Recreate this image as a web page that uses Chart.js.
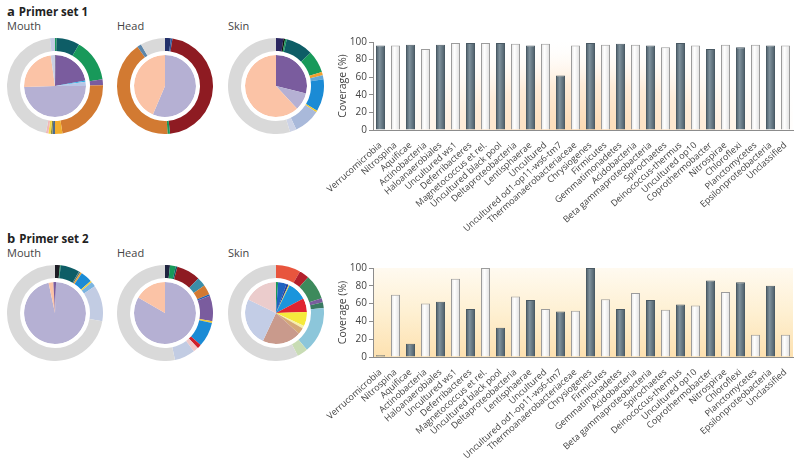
<!DOCTYPE html>
<html>
<head>
<meta charset="utf-8">
<script src="https://cdn.jsdelivr.net/npm/chart.js@4"></script>
<style>
  body { margin: 0; background: #fff; }
  #fig { position: relative; width: 800px; height: 469px; overflow: hidden; font-family: "Open Sans", sans-serif; color: #444; }
  .panel { position: absolute; font-weight: bold; font-size: 11.5px; line-height: 14px; color: #222; }
  .panel span { font-size: 13px; margin-right: 4px; }
  .site { position: absolute; font-size: 11px; line-height: 14px; color: #444; }
  canvas { position: absolute; }
</style>
</head>
<body>
<div id="fig">
  <div class="panel" style="left:7px;top:4px"><span>a</span>Primer set 1</div>
  <div class="site" style="left:7px;top:19px">Mouth</div>
  <div class="site" style="left:117px;top:19px">Head</div>
  <div class="site" style="left:228px;top:19px">Skin</div>

  <div class="panel" style="left:7px;top:231px"><span>b</span>Primer set 2</div>
  <div class="site" style="left:7px;top:246px">Mouth</div>
  <div class="site" style="left:117px;top:246px">Head</div>
  <div class="site" style="left:228px;top:246px">Skin</div>

  <canvas id="pieA1" width="96" height="96" style="left:7px;top:38px"></canvas>
  <canvas id="pieA2" width="96" height="96" style="left:117px;top:38px"></canvas>
  <canvas id="pieA3" width="96" height="96" style="left:228px;top:38px"></canvas>
  <canvas id="pieB1" width="96" height="96" style="left:7px;top:265px"></canvas>
  <canvas id="pieB2" width="96" height="96" style="left:117px;top:265px"></canvas>
  <canvas id="pieB3" width="96" height="96" style="left:228px;top:265px"></canvas>

  <canvas id="barsA" width="475" height="215" style="left:325px;top:30px"></canvas>
  <canvas id="barsB" width="475" height="213" style="left:325px;top:256px"></canvas>
</div>

<script>
// ==================== DATOS ====================
const categories = [
  'Verrucomicrobia', 'Nitrospina', 'Aquificae', 'Actinobacteria', 'Haloanaerobiales',
  'Uncultured ws1', 'Deferribacteres', 'Magnetococcus et rel.', 'Uncultured black pool',
  'Deltaproteobacteria', 'Lentisphaerae', 'Uncultured', 'Uncultured od1-op11-ws6-tm7',
  'Thermoanaerobacteriaceae', 'Chrysiogenes', 'Firmicutes', 'Gemmatimonadetes',
  'Acidobacteria', 'Beta gammaproteobacteria', 'Spirochaetes', 'Deinococcus-thermus',
  'Uncultured op10', 'Coprothermobacter', 'Nitrospirae', 'Chloroflexi', 'Planctomycetes',
  'Epsilonproteobacteria', 'Unclassified'
];
const coverageSet1 = [96, 96, 97, 92, 97, 99, 99, 99, 99, 98, 96, 98, 62, 96, 99, 97, 98, 97, 96, 94, 99, 96, 92, 97, 94, 97, 96, 96];
const coverageSet2 = [2, 70, 15, 60, 62, 88, 54, 100, 33, 68, 64, 54, 51, 52, 100, 65, 54, 72, 64, 53, 59, 58, 86, 73, 84, 25, 80, 25];
const yTicks = [0, 20, 40, 60, 80, 100];

// pie shares in degrees, clockwise from 12 o'clock
const mouth1Outer = [2, 28, 52, 7, 82, 9, 3, 2, 3, 3, 163, 6];
const mouth1Inner = [1, 79, 2, 8, 178, 84, 8];
const head1Outer = [7, 2, 165, 3, 148, 5, 30];
const head1Inner = [203, 157];
const skin1Outer = [9, 2, 2, 33, 27, 4, 5, 39, 2, 32, 8, 197];
const skin1Inner = [104, 33, 223];

const mouth2Outer = [6, 1, 23, 2, 2, 14, 2, 6, 44, 260];
const mouth2Inner = [2, 346, 9, 3];
const head2Outer = [6, 7, 2, 29, 11, 12, 2, 31, 2, 30, 5, 6, 25, 192];
const head2Inner = [300, 60];
const skin2Outer = [30, 12, 30, 5, 7, 56, 13, 207];
const skin2Inner = [4, 16, 4, 2, 36, 26, 27, 5, 12, 73, 91, 64];

// ==================== COLORES ====================
const C = {
  gris: '#d9d9d9', lavanda: '#b5b0d3', melocoton: '#fbc3a6', morado: '#7a5c9e',
  teal: '#0e5d66', verde: '#18995a', naranja: '#d27a32', granate: '#8e1b22',
  marino: '#22306a', azul: '#1b8bd5', acero: '#c2cce3'
};
const mouth1OuterColors = [C.verde, C.teal, C.verde, C.morado, C.naranja, '#f2ae2e', '#4a6a90', '#8a8a40', '#f5d840', '#f0b8b8', C.gris, '#c4cbe3'];
const mouth1InnerColors = ['#222', C.morado, '#2ab0e8', '#b8c6e6', C.lavanda, C.melocoton, '#c9cfe2'];
const head1OuterColors = [C.marino, '#2c5aa0', C.granate, C.verde, C.naranja, '#5d86aa', C.gris];
const head1InnerColors = [C.lavanda, C.melocoton];
const skin1OuterColors = ['#2a2660', '#111', C.verde, C.teal, C.verde, '#f2a030', '#64a8d8', C.azul, '#f0c830', '#a9b9da', '#cdd3e6', C.gris];
const skin1InnerColors = [C.morado, C.lavanda, C.melocoton];

const mouth2OuterColors = ['#1c1c24', C.verde, C.teal, '#4a7a80', '#f0a030', C.azul, '#f0d040', '#7ab4e0', C.acero, C.gris];
const mouth2InnerColors = [C.morado, C.lavanda, C.melocoton, C.morado];
const head2OuterColors = ['#1f2440', C.verde, C.teal, C.granate, '#3a8ea8', C.naranja, '#2060b0', C.morado, '#f0c830', C.azul, '#d0202a', '#f0c8c8', C.acero, C.gris];
const head2InnerColors = [C.lavanda, C.melocoton];
const skin2OuterColors = ['#e8553d', '#b3202c', '#3d8a5c', C.morado, '#3a7a62', '#8cc6da', '#c8dcb4', C.gris];
const skin2InnerColors = [C.verde, '#1f63c0', '#2040a0', '#f0d040', '#1b95dc', '#e02430', '#f5ea3c', '#f7f0a8', '#d4a878', '#c99a8c', '#c3cde6', '#ebcccc'];

const FONT = '"Open Sans", sans-serif';

// ==================== PASTELES ====================
function crearPastel(id, outer, outerColors, inner, innerColors) {
  new Chart(document.getElementById(id), {
    type: 'doughnut',
    data: {
      datasets: [
        { data: outer, backgroundColor: outerColors, weight: 13 },
        { data: [1], backgroundColor: '#ffffff', weight: 4 },
        { data: inner, backgroundColor: innerColors, weight: 31 }
      ]
    },
    options: {
      responsive: false,
      animation: false,
      cutout: 0,
      events: [],
      borderWidth: 0,
      hoverOffset: 0,
      elements: { arc: { borderWidth: 0 } },
      plugins: { legend: { display: false }, tooltip: { enabled: false } }
    }
  });
}

crearPastel('pieA1', mouth1Outer, mouth1OuterColors, mouth1Inner, mouth1InnerColors);
crearPastel('pieA2', head1Outer, head1OuterColors, head1Inner, head1InnerColors);
crearPastel('pieA3', skin1Outer, skin1OuterColors, skin1Inner, skin1InnerColors);
crearPastel('pieB1', mouth2Outer, mouth2OuterColors, mouth2Inner, mouth2InnerColors);
crearPastel('pieB2', head2Outer, head2OuterColors, head2Inner, head2InnerColors);
crearPastel('pieB3', skin2Outer, skin2OuterColors, skin2Inner, skin2InnerColors);

// ==================== FONDO DEL AREA ====================
const fondoArea = {
  id: 'fondoArea',
  beforeDraw(chart, args, opts) {
    const area = chart.chartArea;
    if (!area) return;
    const ctx = chart.ctx;
    const w = area.right - area.left, h = area.bottom - area.top;
    ctx.save();
    ctx.beginPath();
    ctx.rect(area.left, area.top, w, h);
    ctx.clip();
    if (opts.tipo === 'radial') {
      ctx.fillStyle = '#ffffff';
      ctx.fillRect(area.left, area.top, w, h);
      ctx.translate((area.left + area.right) / 2, area.bottom);
      ctx.scale(w * 0.55 / h, 1);
      const g = ctx.createRadialGradient(0, 0, 0, 0, 0, h * 1.05);
      g.addColorStop(0, '#fcdab2');
      g.addColorStop(0.5, '#feecd9');
      g.addColorStop(1, 'rgba(255,255,255,0)');
      ctx.fillStyle = g;
      ctx.fillRect(-2000, -2000, 4000, 4000);
    } else {
      const g = ctx.createLinearGradient(0, area.top, 0, area.bottom);
      g.addColorStop(0, '#fffaf0');
      g.addColorStop(0.5, '#fef0d2');
      g.addColorStop(1, '#fde1b0');
      ctx.fillStyle = g;
      ctx.fillRect(area.left, area.top, w, h);
    }
    ctx.restore();
  }
};

// ==================== BARRAS ====================
function rellenoBarra(context) {
  const chart = context.chart;
  const i = context.dataIndex;
  const oscura = i % 2 === 0;
  const xs = chart.scales.x;
  if (!chart.chartArea || !xs || context.type !== 'data') return oscura ? '#5e717d' : '#f6f6f6';
  const cx = xs.getPixelForValue(i);
  const half = (xs.width / categories.length) * 0.6 / 2;
  const g = chart.ctx.createLinearGradient(cx - half, 0, cx + half, 0);
  if (oscura) {
    g.addColorStop(0, '#4a5b66');
    g.addColorStop(0.4, '#7f919c');
    g.addColorStop(1, '#4a5b66');
  } else {
    g.addColorStop(0, '#e4e4e4');
    g.addColorStop(0.4, '#ffffff');
    g.addColorStop(1, '#dedede');
  }
  return g;
}

function crearBarras(id, valores, tipoFondo, alturaEje) {
  new Chart(document.getElementById(id), {
    type: 'bar',
    data: {
      labels: categories,
      datasets: [{
        data: valores,
        backgroundColor: rellenoBarra,
        borderColor: ctx => ctx.dataIndex % 2 === 0 ? '#4a5a64' : '#9c9c9c',
        borderWidth: 1,
        borderSkipped: 'bottom',
        barPercentage: 0.6,
        categoryPercentage: 1
      }]
    },
    options: {
      responsive: false,
      animation: false,
      events: [],
      layout: { padding: { top: 12, right: 7, left: 12, bottom: 0 } },
      plugins: {
        legend: { display: false },
        tooltip: { enabled: false },
        fondoArea: { tipo: tipoFondo }
      },
      scales: {
        x: {
          grid: { display: false },
          border: { color: '#8c8c8c', width: 1 },
          ticks: {
            autoSkip: false, minRotation: 42, maxRotation: 42, padding: 2,
            color: '#444', font: { family: FONT, size: 9 }
          },
          afterFit(s) { s.height = alturaEje; s.paddingLeft = 0; s.paddingRight = 0; }
        },
        y: {
          min: 0, max: 100,
          afterBuildTicks(s) { s.ticks = yTicks.map(v => ({ value: v })); },
          grid: { drawOnChartArea: false, tickLength: 4, color: '#8c8c8c' },
          border: { color: '#8c8c8c', width: 1 },
          ticks: { color: '#444', padding: 2, font: { family: FONT, size: 10 } },
          title: { display: true, text: 'Coverage (%)', color: '#444', padding: { top: 0, bottom: 2 }, font: { family: FONT, size: 10.5 } },
          afterFit(s) { s.width = 36; s.paddingTop = 0; s.paddingBottom = 0; }
        }
      }
    },
    plugins: [fondoArea]
  });
}

crearBarras('barsA', coverageSet1, 'radial', 115);
crearBarras('barsB', coverageSet2, 'lineal', 112);
</script>
</body>
</html>
